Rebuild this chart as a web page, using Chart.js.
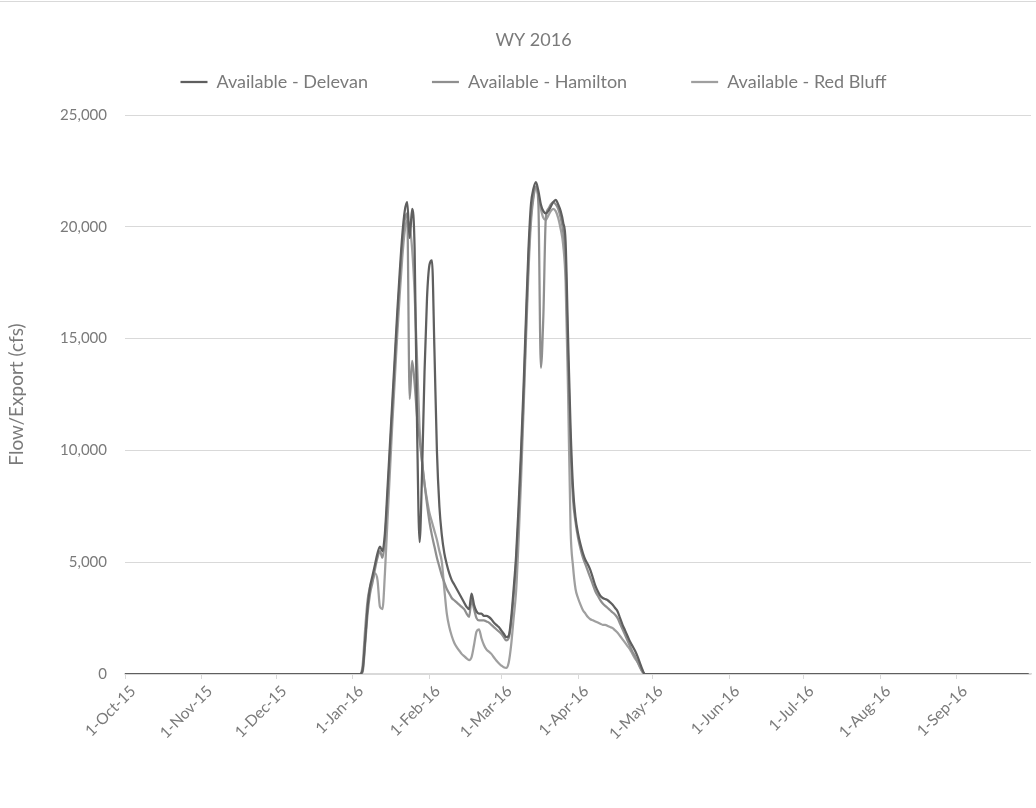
<!DOCTYPE html>
<html>
<head>
<meta charset="utf-8">
<title>WY 2016</title>
<script src="https://cdn.jsdelivr.net/npm/chart.js@4/dist/chart.umd.min.js"></script>
<style>
  html, body { margin: 0; padding: 0; background: #ffffff; }
  #wrap { position: relative; width: 1036px; height: 808px; }
</style>
</head>
<body>
<div id="wrap"><canvas id="chart" width="1036" height="808"></canvas></div>
<script>
// Water year 2016 runs 1-Oct-15 .. 30-Sep-16; x values are days since 1-Oct-15.
const monthDays = [0, 31, 61, 92, 123, 152, 183, 213, 244, 274, 305, 336];
const monthLabels = ['1-Oct-15', '1-Nov-15', '1-Dec-15', '1-Jan-16', '1-Feb-16', '1-Mar-16',
                     '1-Apr-16', '1-May-16', '1-Jun-16', '1-Jul-16', '1-Aug-16', '1-Sep-16'];
const yTicks = [0, 5000, 10000, 15000, 20000, 25000];

// Daily record from early January through early May; zero before and after.
const days = [0,
  95, 96, 97, 98, 99, 100, 101, 102, 103, 104, 105, 106, 107, 108, 109, 110, 111, 112, 113, 114,
  115, 116, 117, 118, 119, 120, 121, 122, 123, 124, 125, 126, 127, 128, 129, 130, 131, 132, 133, 134,
  135, 136, 137, 138, 139, 140, 141, 142, 143, 144, 145, 146, 147, 148, 149, 150, 151, 152, 153, 154,
  155, 156, 157, 158, 159, 160, 161, 162, 163, 164, 165, 166, 167, 168, 169, 170, 171, 172, 173, 174,
  175, 176, 177, 178, 179, 180, 181, 182, 183, 184, 185, 186, 187, 188, 189, 190, 191, 192, 193, 194,
  195, 196, 197, 198, 199, 200, 201, 202, 203, 204, 205, 206, 207, 208, 209, 210, 211, 212,
  365];

const delevan = [0,
  0, 200, 1500, 3000, 3900, 4400, 4900, 5400, 5700, 5500, 6300, 8200, 10200, 12200, 14200, 16200, 18000, 19600, 20700, 21100,
  19500, 20800, 19000, 11000, 5900, 9000, 13500, 16800, 18300, 18500, 14500, 10000, 7500, 6200, 5400, 4900, 4500, 4200, 4000, 3800,
  3600, 3400, 3200, 3000, 2900, 3600, 3100, 2800, 2700, 2700, 2600, 2600, 2550, 2450, 2300, 2200, 2100, 1950, 1800, 1650,
  1700, 2500, 3800, 5300, 7500, 10000, 12800, 16000, 19000, 21000, 21700, 22000, 21600, 21000, 20700, 20600, 20700, 20900, 21100, 21200,
  21000, 20700, 20200, 19300, 15000, 11000, 8300, 7000, 6300, 5800, 5400, 5100, 4900, 4650, 4300, 3950, 3700, 3500, 3400, 3350,
  3300, 3200, 3100, 2950, 2800, 2500, 2200, 1950, 1700, 1450, 1250, 1050, 800, 500, 200, 0, 0, 0,
  0];

const hamilton = [0,
  0, 100, 1300, 2700, 3600, 4100, 4700, 5200, 5500, 5200, 6000, 7800, 9800, 11800, 13800, 15800, 17600, 19200, 20300, 20600,
  12300, 14000, 13000, 11500, 10500, 9500, 8500, 7600, 6800, 6200, 5700, 5200, 4800, 4400, 4100, 3800, 3600, 3400, 3300, 3200,
  3100, 3000, 2900, 2700, 2550, 3300, 2900, 2500, 2400, 2400, 2400, 2350, 2300, 2200, 2100, 2000, 1900, 1800, 1650, 1500,
  1600, 2300, 3500, 5000, 7000, 9500, 12300, 15500, 18500, 20500, 21400, 21800, 21000, 13700, 16000, 20400, 20800, 21000, 21100, 21000,
  20800, 20400, 19800, 18500, 14000, 10200, 7800, 6800, 6100, 5600, 5200, 4900, 4600, 4300, 4000, 3700, 3500, 3300, 3150, 3050,
  2950, 2850, 2750, 2650, 2500, 2250, 2000, 1750, 1500, 1250, 1000, 800, 550, 300, 100, 0, 0, 0,
  0];

const redBluff = [0,
  0, 400, 2000, 3300, 3900, 4200, 4500, 4200, 3000, 2900, 4500, 6800, 9000, 11200, 13200, 15200, 17000, 18600, 19800, 20300,
  20000, 19000, 17000, 14000, 11000, 9500, 8500, 7800, 7200, 6800, 6400, 6000, 5500, 5000, 3800, 2700, 2100, 1700, 1400, 1200,
  1050, 900, 800, 700, 620, 750, 1300, 1900, 2000, 1600, 1300, 1100, 1000, 900, 750, 600, 480, 380, 300, 270,
  500, 1300, 2500, 3700, 6000, 8700, 11800, 15000, 18000, 20200, 21300, 21800, 21400, 20800, 20400, 20300, 20500, 20700, 20800, 20700,
  20400, 19900, 19200, 17500, 12500, 6500, 4800, 3800, 3400, 3100, 2850, 2700, 2550, 2450, 2400, 2350, 2300, 2250, 2200, 2200,
  2150, 2100, 2050, 1950, 1850, 1700, 1550, 1400, 1250, 1100, 900, 700, 550, 350, 120, 0, 0, 0,
  0];

const seriesNames = ['Available - Delevan', 'Available - Hamilton', 'Available - Red Bluff'];
const seriesColors = ['#5f5f5f', '#8f8f8f', '#9f9f9f'];
const seriesValues = [delevan, hamilton, redBluff];

const textColor = '#7a7a7a';
const gridColor = '#d9d9d9';
const fontFamily = 'Lato, "Liberation Sans", sans-serif';

const datasets = seriesValues.map((vals, i) => ({
  label: seriesNames[i],
  data: days.map((d, k) => ({ x: d, y: vals[k] })),
  borderColor: seriesColors[i],
  backgroundColor: seriesColors[i],
  borderWidth: 2.25,
  pointRadius: 0,
  pointHoverRadius: 0,
  cubicInterpolationMode: 'monotone',
  fill: false
}));

// White background plus the thin outer frame line along the top.
const frame = {
  id: 'frame',
  beforeDraw(chart) {
    const c = chart.ctx;
    c.save();
    c.fillStyle = '#ffffff';
    c.fillRect(0, 0, chart.width, chart.height);
    c.strokeStyle = gridColor;
    c.lineWidth = 1;
    c.beginPath();
    c.moveTo(0, 1.5);
    c.lineTo(chart.width, 1.5);
    c.stroke();
    c.restore();
  }
};

new Chart(document.getElementById('chart'), {
  type: 'line',
  data: { datasets },
  plugins: [frame],
  options: {
    responsive: false,
    animation: false,
    events: [],
    layout: { padding: { left: 36, right: 5, top: 0, bottom: 0 } },
    plugins: {
      title: {
        display: true,
        text: 'WY 2016',
        color: textColor,
        font: { family: fontFamily, size: 18, weight: 'normal', lineHeight: 1.2 },
        padding: { top: 29.2, bottom: -41.8 }
      },
      subtitle: {
        display: true,
        text: '',
        weight: 500,
        font: { size: 1, lineHeight: 0 },
        padding: { top: 14, bottom: 0 }
      },
      legend: {
        display: true,
        position: 'top',
        align: 'center',
        labels: {
          color: textColor,
          font: { family: fontFamily, size: 18 },
          usePointStyle: true,
          pointStyle: 'line',
          pointStyleWidth: 27,
          padding: 64
        }
      },
      tooltip: { enabled: false }
    },
    scales: {
      x: {
        type: 'linear',
        min: 0,
        max: 366,
        afterBuildTicks(scale) {
          scale.ticks = monthDays.map(v => ({ value: v }));
        },
        afterFit(scale) { scale.height = 134; },
        ticks: {
          autoSkip: false,
          minRotation: 45,
          maxRotation: 45,
          padding: 3,
          labelOffset: 8,
          color: textColor,
          font: { family: fontFamily, size: 15.5 },
          callback(value) {
            const i = monthDays.indexOf(value);
            return i >= 0 ? monthLabels[i] : '';
          }
        },
        grid: {
          drawOnChartArea: false,
          drawTicks: true,
          tickLength: 5,
          color: gridColor,
          lineWidth: 1
        },
        border: { display: true, color: gridColor, width: 1.5 }
      },
      y: {
        type: 'linear',
        min: 0,
        max: 25000,
        afterBuildTicks(scale) {
          scale.ticks = yTicks.map(v => ({ value: v }));
        },
        afterFit(scale) { scale.width = 89; },
        ticks: {
          padding: 18,
          color: textColor,
          font: { family: fontFamily, size: 15 },
          callback(value) { return value.toLocaleString('en-US'); }
        },
        grid: {
          drawTicks: false,
          color: gridColor,
          lineWidth: 1
        },
        border: { display: false },
        title: {
          display: true,
          text: 'Flow/Export (cfs)',
          color: textColor,
          font: { family: fontFamily, size: 19, lineHeight: 1.2 },
          padding: { top: -30.4, bottom: 0 }
        }
      }
    }
  }
});
</script>
</body>
</html>
